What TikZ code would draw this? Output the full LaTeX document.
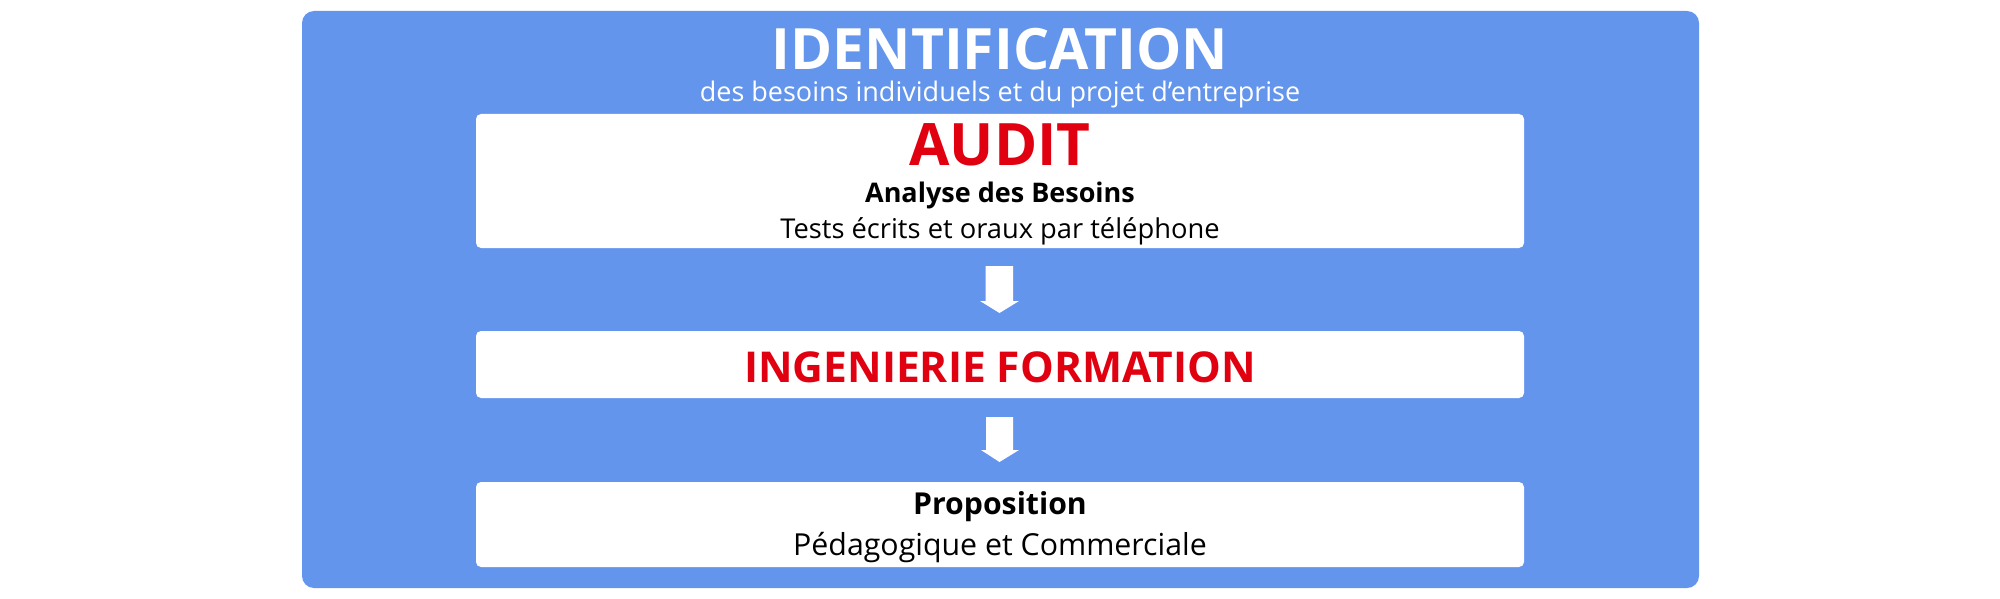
\documentclass[tikz,border=0pt]{standalone}
\usepackage{fontspec}
\setmainfont{Open Sans}
\definecolor{bgblue}{HTML}{6495ED}
\definecolor{auditred}{HTML}{E00010}
\begin{document}
\begin{tikzpicture}[x=1pt,y=-1pt,
  panel/.style={fill=white,rounded corners=5pt},
  downarrow/.style={fill=white},
  txt/.style={inner sep=0pt,anchor=base}]
\useasboundingbox (0,0) rectangle (2000,599);
\fill[bgblue,rounded corners=12pt] (302,11) rectangle (1699,588);
\fill[panel] (476,114) rectangle (1524,248);
\fill[panel] (476,331) rectangle (1524,398);
\fill[panel] (476,482) rectangle (1524,567);
% titles
\node[txt,text=white,font=\fontsize{57}{57}\bfseries\selectfont] (ident) at (1000,70) {IDENTIFICATION};
\node[txt,text=white,font=\fontsize{27}{27}\selectfont] (sub) at (1000,102) {des besoins individuels et du projet d’entreprise};
\node[txt,text=auditred,font=\fontsize{58.5}{58.5}\bfseries\selectfont] (audit) at (1000,165) {AUDIT};
\node[txt,font=\fontsize{27}{27}\bfseries\selectfont] (ana) at (1000,202) {Analyse des Besoins};
\node[txt,font=\fontsize{27.3}{27.3}\selectfont] (tests) at (1000,238) {Tests écrits et oraux par téléphone};
\node[txt,text=auditred,font=\fontsize{42.5}{42.5}\bfseries\selectfont] (ing) at (1000,382) {INGENIERIE FORMATION};
\node[txt,font=\fontsize{30.2}{30.2}\bfseries\selectfont] (prop) at (1000,514) {Proposition};
\node[txt,font=\fontsize{30.3}{30.3}\selectfont] (peda) at (1000,555) {Pédagogique et Commerciale};
% arrows
\fill[downarrow] (985.5,266) -- (1013,266) -- (1013,301) -- (1019,301) -- (999.5,313) -- (980,301) -- (985.5,301) -- cycle;
\fill[downarrow] (986,417) -- (1013,417) -- (1013,450) -- (1019,450) -- (999.5,462) -- (981,450) -- (986,450) -- cycle;
\end{tikzpicture}
\end{document}
